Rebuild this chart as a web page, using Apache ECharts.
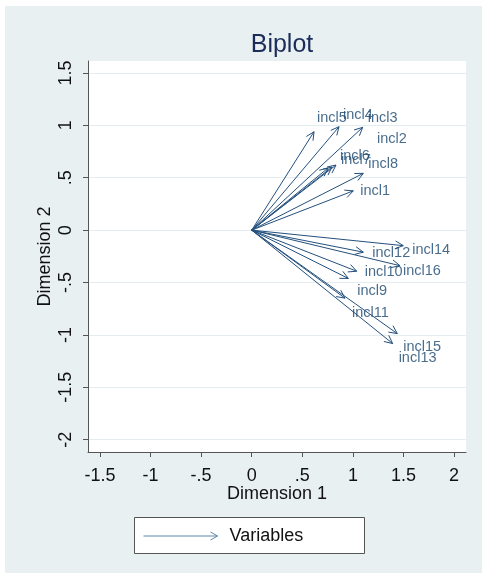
<!DOCTYPE html>
<html>
<head>
<meta charset="utf-8">
<script src="https://cdn.jsdelivr.net/npm/echarts@6/dist/echarts.min.js"></script>
<style>
  html, body { margin: 0; padding: 0; background: #ffffff; }
  #chart { width: 482px; height: 573px; }
</style>
</head>
<body>
<div id="chart"></div>
<script>
// Variable loadings on the first two dimensions
const variables = ['incl1', 'incl2', 'incl3', 'incl4', 'incl5', 'incl6', 'incl7', 'incl8',
                   'incl9', 'incl10', 'incl11', 'incl12', 'incl13', 'incl14', 'incl15', 'incl16'];
const dim1 = [1.004, 0.833, 1.097, 0.863, 0.616, 0.793, 0.754, 1.103,
              0.955, 1.038, 0.922, 1.103, 1.393, 1.498, 1.439, 1.465];
const dim2 = [0.375, 0.621, 0.981, 0.987, 0.939, 0.602, 0.592, 0.542,
              -0.461, -0.392, -0.649, -0.210, -1.082, -0.148, -0.987, -0.339];

// Axis ticks
const xTicks = [-1.5, -1, -0.5, 0, 0.5, 1, 1.5, 2];
const yTicks = [-2, -1.5, -1, -0.5, 0, 0.5, 1, 1.5];

// Pixel nudges for the variable labels (label placement style)
const labelNudge = {
  incl1: [7, 0], incl2: [41, -26], incl3: [5, -9], incl4: [4, -12],
  incl5: [3, -14], incl6: [8, -11], incl7: [13, -8], incl8: [5, -9],
  incl9: [9, 13], incl10: [8, 1], incl11: [7, 15], incl12: [9, 1],
  incl13: [6, 14], incl14: [9, 4], incl15: [6, 13], incl16: [3, 5]
};

const ARROW = '#24507d';
const TEXT = '#1a476f';
const FONT = '"Liberation Sans", Arial, sans-serif';

// Stata-style numbers: ".5", "-.5"
function fmt(v) {
  let s = String(Math.round(v * 100) / 100);
  return s.replace(/^0\./, '.').replace(/^-0\./, '-.');
}

const points = variables.map((n, i) => [dim1[i], dim2[i], n]);

const chart = echarts.init(document.getElementById('chart'), null, { renderer: 'canvas' });

chart.setOption({
  animation: false,
  backgroundColor: 'transparent',
  textStyle: { fontFamily: FONT },
  title: {
    text: 'Biplot',
    left: 277,
    top: 28,
    textAlign: 'center',
    textStyle: { fontSize: 25, fontWeight: 'normal', color: '#1c2d5a', fontFamily: FONT }
  },
  grid: {
    left: 88, top: 61, right: 16, bottom: 121,
    show: true, backgroundColor: '#ffffff', borderWidth: 0
  },
  xAxis: {
    type: 'value',
    min: -1.618, max: 2.118,
    name: 'Dimension 1',
    nameLocation: 'middle',
    nameGap: 33,
    nameMoveOverlap: false,
    nameTextStyle: { fontSize: 18, color: '#111', fontFamily: FONT },
    axisLine: { show: true, onZero: false, lineStyle: { color: '#555', width: 1 } },
    axisTick: { show: true, length: 5, customValues: xTicks, lineStyle: { color: '#555' } },
    axisLabel: { customValues: xTicks, formatter: fmt, fontSize: 18, color: '#111', margin: 15, fontFamily: FONT },
    splitLine: { show: false }
  },
  yAxis: {
    type: 'value',
    min: -2.117, max: 1.614,
    name: 'Dimension 2',
    nameLocation: 'middle',
    nameGap: 34,
    nameMoveOverlap: false,
    nameTextStyle: { fontSize: 18, color: '#111', fontFamily: FONT },
    axisLine: { show: true, onZero: false, lineStyle: { color: '#555', width: 1 } },
    axisTick: { show: true, length: 5, customValues: yTicks, lineStyle: { color: '#555' } },
    axisLabel: { customValues: yTicks, formatter: fmt, fontSize: 18, color: '#111', margin: 13, rotate: 90, fontFamily: FONT },
    splitLine: { show: true, lineStyle: { color: '#e3ecef', width: 1 } }
  },
  graphic: [
    {
      type: 'rect', z: -10, silent: true,
      shape: { x: 5, y: 6, width: 477, height: 567 },
      style: { fill: '#e8f0f2' }
    },
    {
      type: 'group', left: 134, top: 517,
      children: [
        { type: 'rect', shape: { x: 0, y: 0, width: 230, height: 36 },
          style: { fill: '#ffffff', stroke: '#555', lineWidth: 1 } },
        { type: 'line', shape: { x1: 9, y1: 18.5, x2: 83, y2: 18.5 },
          style: { stroke: '#5f84ad', lineWidth: 1 } },
        { type: 'polyline', shape: { points: [[76, 14.5], [83, 18.5], [76, 22.5]] },
          style: { stroke: '#5f84ad', fill: null, lineWidth: 1 } },
        { type: 'text', x: 95, y: 18.5,
          style: { text: 'Variables', fontSize: 18, fill: '#111', fontFamily: FONT,
                   verticalAlign: 'middle', align: 'left' } }
      ]
    }
  ],
  series: [
    {
      // arrows from the origin to each loading
      type: 'custom',
      coordinateSystem: 'cartesian2d',
      data: points,
      encode: { x: 0, y: 1 },
      renderItem: function (params, api) {
        const o = api.coord([0, 0]);
        const p = api.coord([api.value(0), api.value(1)]);
        const ang = Math.atan2(p[1] - o[1], p[0] - o[0]);
        const L = 9, a = Math.PI / 7;
        const b1 = [p[0] - L * Math.cos(ang - a), p[1] - L * Math.sin(ang - a)];
        const b2 = [p[0] - L * Math.cos(ang + a), p[1] - L * Math.sin(ang + a)];
        return {
          type: 'group',
          children: [
            { type: 'line', shape: { x1: o[0], y1: o[1], x2: p[0], y2: p[1] },
              style: { stroke: ARROW, lineWidth: 1 } },
            { type: 'polyline', shape: { points: [b1, p, b2] },
              style: { stroke: ARROW, fill: null, lineWidth: 1 } }
          ]
        };
      }
    },
    {
      // variable names at the arrow tips
      type: 'scatter',
      symbolSize: 0,
      data: points.map(p => ({
        value: [p[0], p[1]],
        name: p[2],
        label: { offset: labelNudge[p[2]] }
      })),
      label: {
        show: true,
        position: 'right',
        distance: 0,
        formatter: '{b}',
        fontSize: 14.5,
        color: TEXT,
        fontFamily: FONT
      },
      z: 5
    }
  ]
});
</script>
</body>
</html>
